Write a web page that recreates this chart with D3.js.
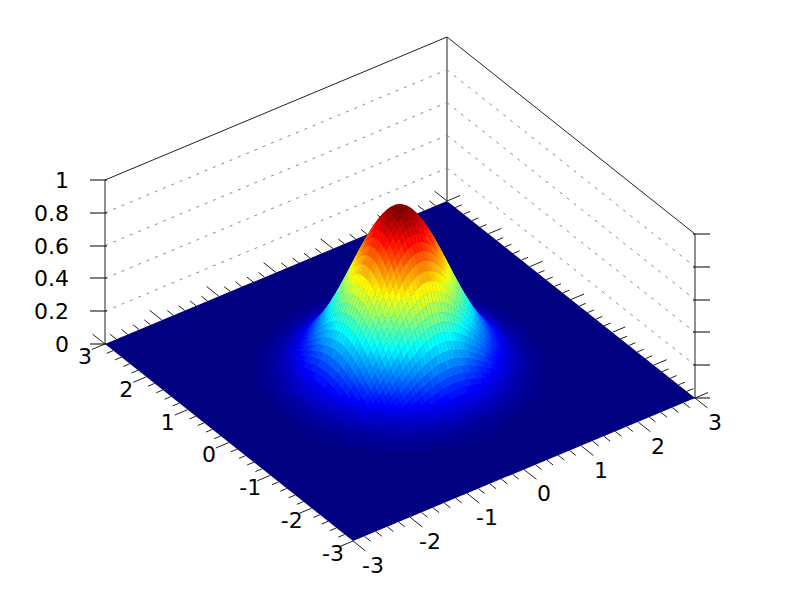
<!DOCTYPE html>
<html>
<head>
<meta charset="utf-8">
<style>html,body{margin:0;background:#fff}svg{display:block}text{font-family:"DejaVu Sans";font-size:22px;fill:#000}</style>
<script src="https://cdn.jsdelivr.net/npm/d3@7"></script>
</head>
<body>
<svg id="c" width="800" height="600"></svg>
<script>
// Height along a central slice of the bump: 100 grid nodes span -3..3, and these are the heights
// of the nodes from the centre outward (estimated from the picture's peak, outline and colour
// bands; zero beyond the last entry).
// The bump is round, so a surface node's height is the slice value for its x times the one for its y.
const sliceHeights = [.9991,.9918,.9773,.956,.9283,.8948,.8563,.8133,.7669,.7178,.667,.6152,.5633,.512,.462,.4137,.3679,.3247,.2845,.2474,.2136,.1831,.1557,.1316,.1103,.0918,.0758,.0622,.0506,.0409,.0328,.0261,.0207,.0162,.0126,.0098,.0075,.0057,.0043,.0032];
const gridNodes = d3.range(100);
const nodeToData = d3.scaleLinear([0,99],[-3,3]);
const xTickLabels = ["-3","-2","-1","0","1","2","3"];
const yTickLabels = ["-3","-2","-1","0","1","2","3"];
const xTicks = [-3,-2,-1,0,1,2,3];
const yTicks = [-3,-2,-1,0,1,2,3];
const minorTicks = [-2.8,-2.6,-2.4,-2.2,-1.8,-1.6,-1.4,-1.2,-0.8,-0.6,-0.4,-0.2,0.2,0.4,0.6,0.8,1.2,1.4,1.6,1.8,2.2,2.4,2.6,2.8];
const zTicks = [0,0.2,0.4,0.6,0.8,1];
const zTickLabels = ["0","0.2","0.4","0.6","0.8","1"];
const jetStops = ["#000080","#0000ff","#00ffff","#ffff00","#ff0000","#800000"];
const jetPositions = [0,0.125,0.375,0.625,0.875,1];

const slice = n => sliceHeights[n >= 50 ? n - 50 : 49 - n] || 0;
const heightAt = (i, j) => slice(i) * slice(j);

// Oblique view: each data axis moves the screen point along its own direction.
const xToPx = d3.scaleLinear([-3,3],[353-400,695-400]);
const xToPy = d3.scaleLinear([-3,3],[541-371,398-371]);
const yToPx = d3.scaleLinear([-3,3],[0,105-353]);
const yToPy = d3.scaleLinear([-3,3],[0,344-541]);
const zToPy = d3.scaleLinear([0,1],[0,-164]);
const project = (x,y,z=0) => [
  400 + xToPx(x) + yToPx(y),
  371 + xToPy(x) + yToPy(y) + zToPy(z)
];
const jet = d3.scaleLinear(jetPositions, jetStops).interpolate(d3.interpolateRgb);
const palette = d3.range(64).map(k => jet(k/63));
const colour = d3.scaleQuantize([0,1], palette);

const svg = d3.select("#c");
const line = d3.line();

// Walls: box edges and dotted height lines
const walls = svg.append("g");
const segs = [
  [[-3,3,0],[-3,3,1]], [[3,3,0],[3,3,1]], [[3,-3,0],[3,-3,1]],
  [[-3,3,1],[3,3,1]], [[3,3,1],[3,-3,1]]
];
walls.selectAll("path.edge").data(segs).join("path").attr("class","edge")
  .attr("d", d => line(d.map(p => project(...p))))
  .attr("fill","none").attr("stroke","#222").attr("stroke-width",1);
const dotted = zTicks.filter(z => z > 0 && z < 1);
for (const ends of [[[-3,3],[3,3]], [[3,3],[3,-3]]]) {
  walls.selectAll(null).data(dotted).join("path")
    .attr("d", z => line(ends.map(e => project(e[0], e[1], z))))
    .attr("fill","none").attr("stroke","#8a8a8a").attr("stroke-width",1).attr("stroke-dasharray","3,6");
}

// Floor ticks
const ticks = svg.append("g").attr("stroke","#222").attr("stroke-width",1).attr("fill","none");
const majorLen = 0.3, minorLen = 0.15, majorLenX = 0.23, minorLenX = 0.115;
const tickSegs = [];
for (const [list, ly, lx] of [[xTicks, majorLen, majorLenX],[minorTicks, minorLen, minorLenX]]) {
  list.forEach(t => {
    tickSegs.push([[t,-3,0],[t,-3-ly,0]]);
    tickSegs.push([[t,3,0],[t,3+ly,0]]);
    tickSegs.push([[-3,t,0],[-3-lx,t,0]]);
    tickSegs.push([[3,t,0],[3+lx,t,0]]);
  });
}
ticks.selectAll("path").data(tickSegs).join("path").attr("d", d => line(d.map(p => project(...p))));

// Height ticks on the two side edges, sitting on whole pixels
const zt = svg.append("g").attr("stroke","#000").attr("stroke-width",1);
zTicks.forEach(z => {
  const l = project(-3,3,z), r = project(3,-3,z);
  zt.append("line").attr("x1",90).attr("x2",107).attr("y1",Math.round(l[1])).attr("y2",Math.round(l[1]));
  zt.append("line").attr("x1",693).attr("x2",710).attr("y1",Math.round(r[1])).attr("y2",Math.round(r[1]));
});

// Flat floor in the lowest colour
svg.append("path")
  .attr("d", line([[-3,-3],[3,-3],[3,3],[-3,3]].map(c => project(c[0],c[1],0))) + "Z")
  .attr("fill", palette[0]);

// Raised surface, painted back to front
const cells = [];
for (let a = gridNodes.length-2; a >= 0; a--) {
  for (let b = gridNodes.length-2; b >= 0; b--) {
    const corners = [[a,b],[a+1,b],[a+1,b+1],[a,b+1]];
    const zs = corners.map(c => heightAt(c[0],c[1]));
    const mean = d3.mean(zs);
    if (colour(mean) !== palette[0]) cells.push({corners, zs, mean});
  }
}
svg.append("g").selectAll("path").data(cells).join("path")
  .attr("d", d => line(d.corners.map((c,k) => project(nodeToData(c[0]),nodeToData(c[1]),d.zs[k]))) + "Z")
  .attr("fill", d => colour(d.mean)).attr("stroke", d => colour(d.mean)).attr("stroke-width",0.4);

// Labels
const labels = svg.append("g").attr("text-anchor","middle");
xTicks.forEach((t,k) => { const p = project(t,-3,0);
  labels.append("text").attr("x",p[0]+20).attr("y",p[1]+24).attr("dy","0.36em").text(xTickLabels[k]); });
yTicks.forEach((t,k) => { const p = project(-3,t,0);
  labels.append("text").attr("x",p[0]-20).attr("y",p[1]+12).attr("dy","0.36em").text(yTickLabels[k]); });
zTicks.forEach((z,k) => { const p = project(-3,3,z);
  svg.append("text").attr("text-anchor","end").attr("x",69).attr("y",p[1]).attr("dy","0.36em").text(zTickLabels[k]); });
</script>
</body>
</html>
